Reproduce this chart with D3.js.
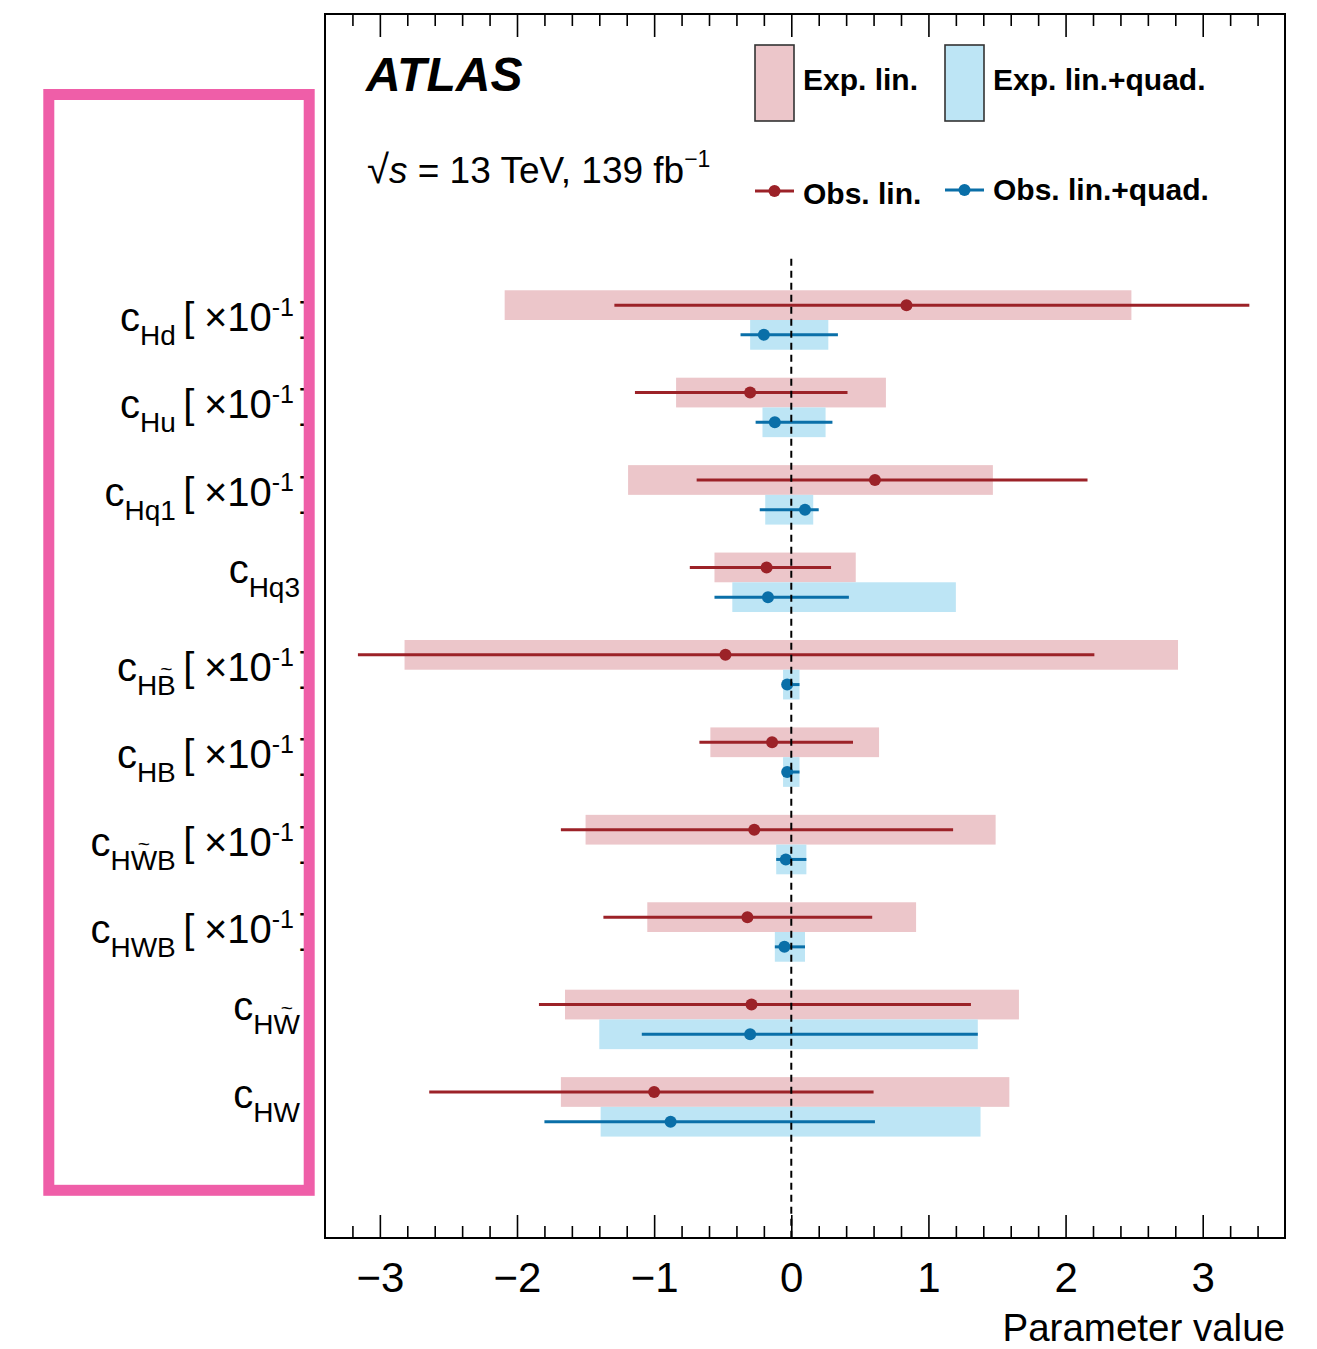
<!DOCTYPE html>
<html><head><meta charset="utf-8">
<script src="https://cdn.jsdelivr.net/npm/d3@7"></script>
<style>
body{margin:0;background:#fff;}
svg{display:block;font-family:"Liberation Sans",Arial,Helvetica,sans-serif;}
</style></head><body>
<svg id="chart" width="1317" height="1349"></svg>
<script>
// Wilson coefficients, listed top to bottom
const subscripts = ["Hd","Hu","Hq1","Hq3","HB","HB","HWB","HWB","HW","HW"];
// position (inside the subscript) of the letter that carries a tilde, -1 = none
const tildeAt = [-1,-1,-1,-1,1,-1,1,-1,1,-1];
// coefficients shown in units of 10^-1
const scaledBy10 = [true,true,true,false,true,true,true,true,false,false];

// expected intervals, linear model
const expLinLo = [-2.09,-0.84,-1.19,-0.56,-2.82,-0.59,-1.50,-1.05,-1.65,-1.68];
const expLinHi = [ 2.48, 0.69, 1.47, 0.47, 2.82, 0.64, 1.49, 0.91, 1.66, 1.59];
// observed best fit and interval, linear model
const obsLin   = [ 0.84,-0.30, 0.61,-0.18,-0.48,-0.14,-0.27,-0.32,-0.29,-1.00];
const obsLinLo = [-1.29,-1.14,-0.69,-0.74,-3.16,-0.67,-1.68,-1.37,-1.84,-2.64];
const obsLinHi = [ 3.34, 0.41, 2.16, 0.29, 2.21, 0.45, 1.18, 0.59, 1.31, 0.60];
// expected intervals, linear + quadratic model
const expQuadLo = [-0.30,-0.21,-0.19,-0.43,-0.06,-0.06,-0.11,-0.12,-1.40,-1.39];
const expQuadHi = [ 0.27, 0.25, 0.16, 1.20, 0.06, 0.06, 0.11, 0.10, 1.36, 1.38];
// observed best fit and interval, linear + quadratic model
const obsQuad   = [-0.20,-0.12, 0.10,-0.17,-0.03,-0.03,-0.04,-0.05,-0.30,-0.88];
const obsQuadLo = [-0.37,-0.26,-0.23,-0.56,-0.05,-0.05,-0.11,-0.12,-1.09,-1.80];
const obsQuadHi = [ 0.34, 0.30, 0.20, 0.42, 0.06, 0.06, 0.11, 0.10, 1.36, 0.61];

const xTicks = [-3,-2,-1,0,1,2,3];

const redFill = "#ecc6ca", blueFill = "#bde5f5";
const redLine = "#9c2228", blueLine = "#0a6fa8";

const svg = d3.select("#chart");
const frame = {left:325, right:1285, top:14, bottom:1238};
const x = d3.scaleLinear().domain([-3.4,3.6]).range([frame.left, frame.right]);
const y = d3.scaleLinear().domain([0,14]).range([frame.top, frame.bottom]);
const rowY = i => 3.5 + i;     // boundary between the two bands of a coefficient
const band = 0.34;             // height of each band in row units

const idx = d3.range(subscripts.length);

// expected bands
const bars = svg.append("g");
bars.selectAll("rect.lin").data(idx).join("rect").attr("class","lin")
  .attr("x", i => x(expLinLo[i])).attr("width", i => x(expLinHi[i]) - x(expLinLo[i]))
  .attr("y", i => y(rowY(i) - band)).attr("height", y(band) - y(0))
  .attr("fill", redFill);
bars.selectAll("rect.quad").data(idx).join("rect").attr("class","quad")
  .attr("x", i => x(expQuadLo[i])).attr("width", i => x(expQuadHi[i]) - x(expQuadLo[i]))
  .attr("y", i => y(rowY(i))).attr("height", y(band) - y(0))
  .attr("fill", blueFill);

// observed intervals and best-fit points
const obs = svg.append("g");
obs.selectAll("line.lin").data(idx).join("line").attr("class","lin")
  .attr("x1", i => x(obsLinLo[i])).attr("x2", i => x(obsLinHi[i]))
  .attr("y1", i => y(rowY(i) - band/2)).attr("y2", i => y(rowY(i) - band/2))
  .attr("stroke", redLine).attr("stroke-width", 3);
obs.selectAll("circle.lin").data(idx).join("circle").attr("class","lin")
  .attr("cx", i => x(obsLin[i])).attr("cy", i => y(rowY(i) - band/2)).attr("r", 6)
  .attr("fill", redLine);
obs.selectAll("line.quad").data(idx).join("line").attr("class","quad")
  .attr("x1", i => x(obsQuadLo[i])).attr("x2", i => x(obsQuadHi[i]))
  .attr("y1", i => y(rowY(i) + band/2)).attr("y2", i => y(rowY(i) + band/2))
  .attr("stroke", blueLine).attr("stroke-width", 3);
obs.selectAll("circle.quad").data(idx).join("circle").attr("class","quad")
  .attr("cx", i => x(obsQuad[i])).attr("cy", i => y(rowY(i) + band/2)).attr("r", 6)
  .attr("fill", blueLine);

// SM reference line
svg.append("line")
  .attr("x1", x(0)).attr("x2", x(0)).attr("y1", y(2.8)).attr("y2", y(14))
  .attr("stroke", "#000").attr("stroke-width", 2).attr("stroke-dasharray", "7,5");

// frame with inward ticks on top and bottom
const minor = d3.range(-32, 35, 2).map(v => v / 10).filter(v => !xTicks.some(t => Math.abs(t - v) < 1e-9));
const fmt = d => (d < 0 ? "\u2212" : "") + Math.abs(d);
function ticks(g, axisFn, len, values, labels) {
  const a = axisFn(x).tickValues(values).tickSizeInner(-len).tickSizeOuter(0).tickPadding(24)
    .tickFormat(labels ? fmt : "");
  g.call(a);
  g.select(".domain").remove();
  g.selectAll(".tick line").attr("stroke", "#000").attr("stroke-width", 1.6);
}
const bottomMajor = svg.append("g").attr("transform", `translate(0,${frame.bottom})`);
ticks(bottomMajor, d3.axisBottom, 23, xTicks, true);
bottomMajor.selectAll(".tick text").attr("font-size", 42).attr("fill", "#000")
  .attr("font-family", "Liberation Sans, Arial, sans-serif");
ticks(svg.append("g").attr("transform", `translate(0,${frame.bottom})`), d3.axisBottom, 12, minor, false);
ticks(svg.append("g").attr("transform", `translate(0,${frame.top})`), d3.axisTop, 23, xTicks, false);
ticks(svg.append("g").attr("transform", `translate(0,${frame.top})`), d3.axisTop, 12, minor, false);

svg.append("rect")
  .attr("x", frame.left).attr("y", frame.top)
  .attr("width", frame.right - frame.left).attr("height", frame.bottom - frame.top)
  .attr("fill", "none").attr("stroke", "#000").attr("stroke-width", 2);

svg.append("text").attr("x", frame.right).attr("y", 1341).attr("text-anchor", "end")
  .attr("font-size", 38.5).text("Parameter value");

// coefficient labels
const lab = svg.append("g").attr("fill", "#000");
idx.forEach(i => {
  const base = y(rowY(i)) + (scaledBy10[i] ? 11 : 1);
  const t = lab.append("text").attr("x", scaledBy10[i] ? 294 : 300).attr("y", base)
    .attr("text-anchor", "end").attr("font-size", 40);
  t.append("tspan").text("c");
  t.append("tspan").attr("font-size", 28).attr("dy", 14).text(subscripts[i]);
  if (scaledBy10[i]) {
    t.append("tspan").attr("dy", -14).attr("dx", 7.5).text("[");
    t.append("tspan").attr("dx", 9.5).text("\u00d710");
    t.append("tspan").attr("font-size", 25).attr("dy", -15).text("-1");
    lab.append("text").attr("x", 300).attr("y", base).attr("font-size", 40).text("]");
  }
  if (tildeAt[i] >= 0) {
    const r = t.node().getExtentOfChar(1 + tildeAt[i]);
    lab.append("text").attr("x", r.x + r.width / 2).attr("y", base - 5)
      .attr("text-anchor", "middle").attr("font-size", 21).text("~");
  }
});

// experiment label
svg.append("text").attr("x", 366).attr("y", 91).attr("font-size", 48)
  .attr("font-weight", "bold").attr("font-style", "italic").text("ATLAS");
const en = svg.append("text").attr("x", 367).attr("y", 183).attr("font-size", 37);
en.append("tspan").attr("font-size", 40).text("\u221a");
en.append("tspan").attr("font-style", "italic").text("s");
en.append("tspan").text(" = 13 TeV, 139 fb");
en.append("tspan").attr("font-size", 23).attr("dy", -16).text("\u22121");

// legend
const leg = svg.append("g").attr("font-size", 30).attr("font-weight", "bold");
[[755, redFill, "Exp. lin."], [945, blueFill, "Exp. lin.+quad."]].forEach(([lx, fill, name]) => {
  leg.append("rect").attr("x", lx).attr("y", 45).attr("width", 39).attr("height", 76)
    .attr("fill", fill).attr("stroke", "#333").attr("stroke-width", 1.6);
  leg.append("text").attr("x", lx + 48).attr("y", 90).text(name);
});
[[755, 191, 204, redLine, "Obs. lin."], [945, 190, 200, blueLine, "Obs. lin.+quad."]].forEach(([lx, ly, ty, col, name]) => {
  leg.append("line").attr("x1", lx).attr("x2", lx + 39).attr("y1", ly).attr("y2", ly)
    .attr("stroke", col).attr("stroke-width", 3);
  leg.append("circle").attr("cx", lx + 19.5).attr("cy", ly).attr("r", 6).attr("fill", col);
  leg.append("text").attr("x", lx + 48).attr("y", ty).text(name);
});

// highlight box around the coefficient names
svg.append("rect").attr("x", 48.8).attr("y", 94.5).attr("width", 260.4).attr("height", 1095.8)
  .attr("fill", "none").attr("stroke", "#ef5ea8").attr("stroke-width", 11);
</script>
</body></html>
